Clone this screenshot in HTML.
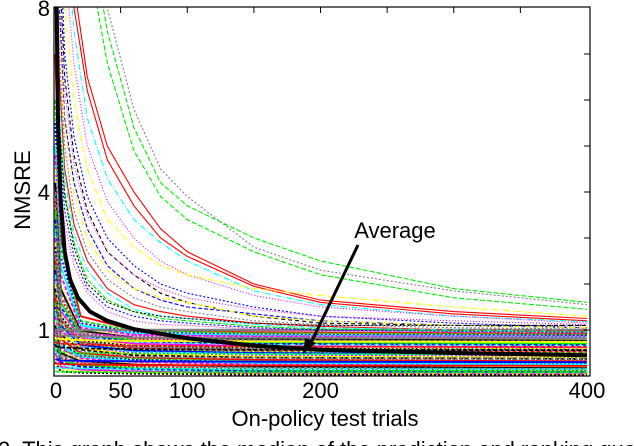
<!DOCTYPE html>
<html><head><meta charset="utf-8"><style>
html,body{margin:0;padding:0;background:#fff;overflow:hidden;width:634px;height:446px}
svg{display:block}
text{font-family:"Liberation Sans",sans-serif}
</style></head><body>
<svg id="chart" width="634" height="446" viewBox="0 0 634 446">
<defs><clipPath id="plotclip"><rect x="54" y="7" width="536" height="369"/></clipPath></defs>
<g id="series" clip-path="url(#plotclip)"></g>
<g id="axes"></g>
</svg>
<script>
// x sample positions (trials) for the upper curves
const xsUpper = [1, 2, 4, 8, 15, 25, 40, 60, 80, 100, 150, 200, 300, 400];
const upperColors = ["#808080","#00ee00","#00ee00","#ff0000","#ff0000","#00ffff","#ff00ff","#ffff00","#0000ff","#000000","#ff00ff","#0000ff","#ffff00","#808080","#ff0000","#00ffff","#00ee00","#000000","#0000ff","#ff00ff"];
const upperDash = ["2,2","5,2","5,2","","","6,2,1,2","1,2","6,2,1,2","2,2","4,3","1,2","4,2","6,2,1,2","2,2","","6,2,1,2","5,2","2,2","2,2","1,2"];
const upperValues = [
 [30,28,24,19,14,11,8.0,5.8,4.5,3.9,2.8,2.3,1.85,1.55],
 [28,26,22,17,13,10,7.5,5.4,4.2,3.7,3.0,2.5,1.9,1.6],
 [26,24,20,15,12,9.2,6.8,4.9,3.9,3.4,2.7,2.2,1.7,1.45],
 [22,20,16,12,8.5,6.5,5.0,4.0,3.2,2.7,2.0,1.65,1.4,1.25],
 [20,18,15,11,8.0,6.2,4.7,3.7,3.0,2.6,1.95,1.6,1.35,1.2],
 [18,16,13,10,7.5,5.6,4.3,3.4,2.9,2.5,1.85,1.55,1.3,1.18],
 [16,14,12,9,6.8,5.0,3.8,3.0,2.5,2.2,1.75,1.5,1.3,1.15],
 [15,13,11,8,6.0,4.5,3.4,2.8,2.4,2.2,1.9,1.75,1.5,1.3],
 [14,12,10,7,5.2,3.9,3.0,2.4,2.0,1.8,1.5,1.3,1.15,1.05],
 [13,11,9,6.5,4.8,3.6,2.7,2.2,1.8,1.6,1.3,1.15,1.1,1.1],
 [12,10,8.5,6.2,4.6,3.5,2.7,2.2,1.9,1.7,1.45,1.3,1.2,1.12],
 [12,10,8,5.6,4.2,3.2,2.4,1.9,1.65,1.5,1.35,1.2,1.1,1.05],
 [11,9.5,7.5,5.4,4.0,3.0,2.3,1.9,1.7,1.6,1.3,1.2,1.1,1.05],
 [10,9,7,5.0,3.6,2.7,2.1,1.7,1.5,1.4,1.2,1.12,1.05,1.02],
 [10,8.5,6.5,4.5,3.3,2.5,1.9,1.55,1.4,1.3,1.15,1.08,1.0,0.98],
 [9,8,6,4.3,3.1,2.3,1.8,1.45,1.3,1.25,1.12,1.05,1.0,0.97],
 [9,7.5,5.5,4.0,2.9,2.1,1.65,1.4,1.25,1.2,1.08,1.02,0.98,0.96],
 [8.5,7,5.5,3.9,2.8,2.0,1.6,1.4,1.3,1.25,1.15,1.1,1.1,1.1],
 [8,7,5,3.6,2.6,1.9,1.5,1.3,1.2,1.15,1.05,1.0,0.97,0.95],
 [7.5,6.5,4.5,3.3,2.4,1.8,1.4,1.2,1.12,1.1,1.02,0.98,0.95,0.93]
];
// lower dense band curves
const xsBand = [1, 5, 20, 60, 150, 400];
const bandColors = ["#ff0000","#00ee00","#0000ff","#00ffff","#ff00ff","#ffff00","#000000","#808080"];
const bandValues = [
 [7,3.0,1.3,1.0,0.95,0.92],[6,2.8,1.2,0.98,0.93,0.9],[5.5,2.6,1.15,0.95,0.9,0.88],
 [5,2.4,1.1,0.92,0.88,0.85],[4.8,2.2,1.05,0.9,0.85,0.82],[4.5,2.0,1.0,0.87,0.82,0.8],
 [4.2,1.9,0.98,0.84,0.8,0.77],[4,1.8,0.95,0.82,0.78,0.75],[3.8,1.7,0.92,0.8,0.75,0.72],
 [3.6,1.6,0.9,0.77,0.72,0.7],[3.4,1.5,0.87,0.75,0.7,0.67],[3.2,1.45,0.85,0.72,0.68,0.65],
 [3.0,1.4,0.82,0.7,0.65,0.62],[2.9,1.35,0.8,0.67,0.62,0.6],[2.8,1.3,0.77,0.65,0.6,0.57],
 [2.6,1.25,0.74,0.62,0.58,0.55],[2.5,1.2,0.72,0.6,0.55,0.52],[2.4,1.15,0.7,0.57,0.52,0.5],
 [2.3,1.1,0.67,0.55,0.5,0.47],[2.2,1.05,0.64,0.52,0.48,0.45],[2.1,1.0,0.62,0.5,0.45,0.42],
 [2.0,0.95,0.6,0.47,0.42,0.4],[1.9,0.9,0.57,0.45,0.4,0.37],[1.8,0.85,0.54,0.42,0.38,0.35],
 [1.7,0.8,0.5,0.4,0.35,0.32],[1.6,0.75,0.47,0.37,0.32,0.3],[1.5,0.7,0.44,0.35,0.3,0.27],
 [1.4,0.65,0.41,0.32,0.28,0.25],[1.3,0.6,0.38,0.3,0.25,0.22],[1.2,0.55,0.35,0.27,0.22,0.2],
 [1.1,0.5,0.32,0.25,0.2,0.17],[1.0,0.45,0.3,0.22,0.18,0.15],[0.9,0.4,0.27,0.2,0.15,0.12],
 [0.8,0.35,0.24,0.17,0.12,0.1],[0.7,0.3,0.2,0.15,0.1,0.08],[0.6,0.25,0.17,0.12,0.08,0.06],
 [0.5,0.2,0.14,0.1,0.06,0.04],[0.4,0.15,0.1,0.07,0.04,0.03],[0.3,0.1,0.07,0.05,0.03,0.02],
 [0.9,0.88,0.86,0.84,0.83,0.82],[0.74,0.7,0.68,0.66,0.64,0.63],[0.55,0.52,0.5,0.49,0.48,0.47],
 [0.36,0.34,0.33,0.32,0.31,0.3],[0.18,0.17,0.16,0.16,0.15,0.15],
 [0.95,0.93,0.9,0.88,0.87,0.86],[0.82,0.8,0.78,0.76,0.75,0.74],[0.65,0.62,0.6,0.58,0.57,0.56],
 [0.45,0.43,0.42,0.41,0.4,0.39],[0.27,0.26,0.25,0.24,0.23,0.22],[0.1,0.09,0.09,0.08,0.08,0.08]
];
// average curve
const xsAvg = [1, 2, 3, 5, 8, 12, 18, 27, 40, 60, 100, 150, 200, 300, 400];
const avgValues = [12, 8, 5.5, 3.8, 2.7, 2.1, 1.7, 1.4, 1.2, 1.02, 0.82, 0.66, 0.57, 0.5, 0.45];
const refLine = 1;
const xTicks = [0, 50, 100, 200, 400];
const xTickMarks = [50, 100, 150, 200, 250, 300, 350];
const yTickLabels = [1, 4, 8];
const yTickMarks = [1, 2, 3, 4, 5, 6, 7];

const X0=54, X1=587, Y0=376, PXY=46;
function xs(v){return X0+(X1-X0)*v/400;}
function ys(v){return Y0-PXY*v;}
const NS="http://www.w3.org/2000/svg";
const g=document.getElementById('series'), ax=document.getElementById('axes');
function mk(tag,attrs,parent){const e=document.createElementNS(NS,tag);for(const k in attrs)e.setAttribute(k,attrs[k]);parent.appendChild(e);return e;}
function pathOf(xarr,varr){return varr.map((v,i)=>(i?'L':'M')+xs(xarr[i]).toFixed(1)+','+ys(v).toFixed(1)).join(' ');}

bandValues.forEach((vals,i)=>{
  const p=mk('path',{d:pathOf(xsBand,vals),fill:'none',stroke:bandColors[i%bandColors.length],'stroke-width':1.8,'stroke-dasharray':(i%3===0?'':(i%3===1?'4,2':'2,2'))},g);
  
  
});
const rl=mk('line',{x1:xs(0),x2:xs(400),y1:ys(refLine),y2:ys(refLine),stroke:'#808080','stroke-width':2.5},g);


upperValues.forEach((vals,i)=>{
  const p=mk('path',{d:pathOf(xsUpper,vals),fill:'none',stroke:upperColors[i],'stroke-width':1.1,'stroke-dasharray':upperDash[i]},g);
  
  
});
const av=mk('path',{d:pathOf(xsAvg,avgValues),fill:'none',stroke:'#000','stroke-width':4,'stroke-linejoin':'round'},g);



const fr=mk('rect',{x:X0,y:7,width:X1-X0+3,height:Y0-7,fill:'none',stroke:'#000','stroke-width':1.2},ax);


xTickMarks.forEach(t=>{
  const l=mk('line',{x1:xs(t),x2:xs(t),y1:7,y2:13,stroke:'#000'},ax);
  
  
});
yTickMarks.forEach(t=>{
  const l=mk('line',{x1:X1-3,x2:X1+3,y1:ys(t),y2:ys(t),stroke:'#000'},ax);
  
  
});
xTicks.forEach(t=>{
  const tx=mk('text',{x:xs(t)+(t===0?2:0),y:398,'text-anchor':'middle','font-size':22},ax);
  tx.textContent=t;
  
  
});
yTickLabels.forEach(t=>{
  const tx=mk('text',{x:50,y:ys(t)+8,'text-anchor':'end','font-size':22},ax);
  tx.textContent=t;
  
  
});
</script>
<svg style="position:absolute;left:0;top:0" width="634" height="446">
<line x1="358" y1="245" x2="310" y2="345" stroke="#000" stroke-width="3"/>
<polygon points="303,354 305,338 316,343" fill="#000"/>
<text x="395" y="238" text-anchor="middle" font-size="22" font-family="Liberation Sans, sans-serif">Average</text>
<text x="30" y="190" text-anchor="middle" font-size="22" font-family="Liberation Sans, sans-serif" transform="rotate(-90 30 190)">NMSRE</text>
<text x="325" y="426" text-anchor="middle" font-size="22" font-family="Liberation Sans, sans-serif">On-policy test trials</text>
<text x="-2" y="457" font-size="22" font-family="Liberation Serif, serif">2.  This graph shows the median of the prediction and ranking quality</text>
</svg>
</body></html>
